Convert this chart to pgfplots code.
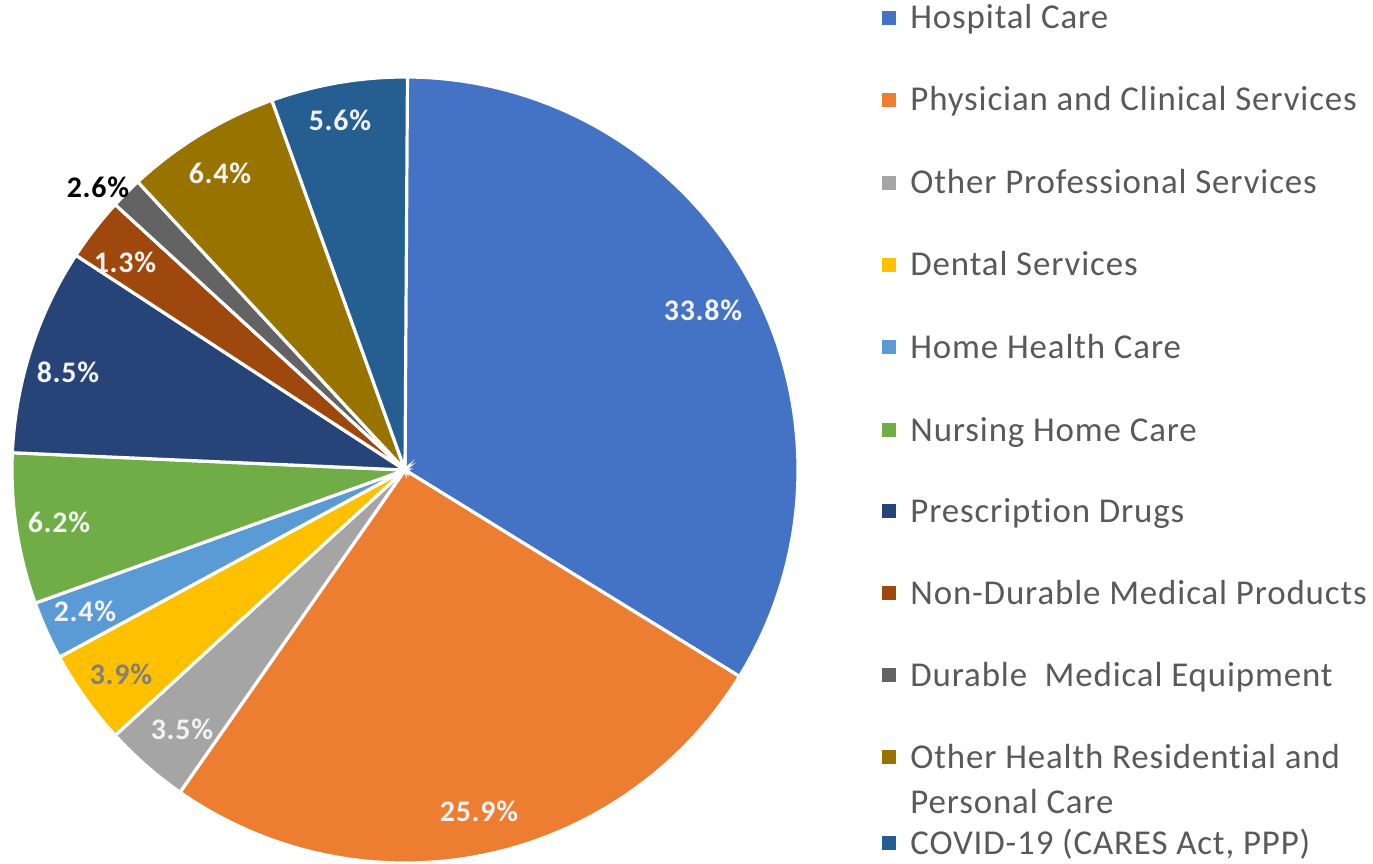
\documentclass[border=0pt]{standalone}
\usepackage{fontspec}
\setmainfont{Carlito}
\newfontfamily\legfont[LetterSpace=2.5, Ligatures=CommonOff]{Carlito}
\newfontfamily\labfont[LetterSpace=2.5, Ligatures=CommonOff]{Carlito}
\usepackage{pgfplots}
\usepackage{pgfplotstable}
\pgfplotsset{compat=1.18}

\definecolor{c0}{HTML}{4472C4}
\definecolor{c1}{HTML}{ED7D31}
\definecolor{c2}{HTML}{A5A5A5}
\definecolor{c3}{HTML}{FFC000}
\definecolor{c4}{HTML}{5B9BD5}
\definecolor{c5}{HTML}{70AD47}
\definecolor{c6}{HTML}{264478}
\definecolor{c7}{HTML}{9E480E}
\definecolor{c8}{HTML}{636363}
\definecolor{c9}{HTML}{997300}
\definecolor{c10}{HTML}{255E91}
\definecolor{legtext}{HTML}{595959}
\definecolor{labgray}{HTML}{7F7F7F}
\definecolor{labwhite}{HTML}{F2F2F2}

% share (%), printed label, label position (px, y from top)
\pgfplotstableread{
val  lab  lx  ly
33.8 33.8 703 310
25.9 25.9 479 811
3.5  3.5  182 729
3.9  3.9  121 674
2.4  2.4  85  611
6.2  6.2  59  522
8.5  8.5  68  372
2.6  1.3  125 262
1.3  2.6  98  187
6.4  6.4  220 173
5.6  5.6  340 120
}\piedata

\newcommand{\legentry}[3]{% color, y (from top), text
  \fill[#1] (axis cs:882,{863-#2-7}) rectangle (axis cs:896,{863-#2+7});
  \node[anchor=base west, inner sep=0pt, text=legtext,
        font=\legfont\fontsize{17.5}{21}\selectfont]
        at (axis cs:910,{863-#2-11}) {#3};
}

\begin{document}
\begin{tikzpicture}
\begin{axis}[
  x=0.5bp, y=0.5bp,
  xmin=0, xmax=1373, ymin=0, ymax=863,
  hide axis, clip=false,
]
\coordinate (bl) at (axis cs:0,0);
\coordinate (tr) at (axis cs:1373,863);

% sectors, clockwise from the top
\def\startang{90}
\pgfplotsforeachungrouped \i in {0,...,10}{%
  \pgfplotstablegetelem{\i}{val}\of\piedata
  \let\v\pgfplotsretval
  \pgfmathsetmacro\endang{\startang-3.6*\v}%
  \edef\temp{\noexpand\fill[c\i, draw=white, line width=1.6bp]
    (axis cs:405,393) -- ++(\startang:196.5bp)
    arc[start angle=\startang, end angle=\endang, radius=196.5bp] -- cycle;}%
  \temp
  \let\startang\endang
}

% data labels
\pgfplotsforeachungrouped \i in {0,...,10}{%
  \pgfplotstablegetelem{\i}{lab}\of\piedata \let\lab\pgfplotsretval
  \pgfplotstablegetelem{\i}{lx}\of\piedata \let\lx\pgfplotsretval
  \pgfplotstablegetelem{\i}{ly}\of\piedata \let\ly\pgfplotsretval
  \def\lc{labwhite}%
  \ifnum\i=8 \def\lc{black}\fi
  \ifnum\i=3 \def\lc{labgray}\fi
  \edef\temp{\noexpand\node[text=\lc, font=\noexpand\labfont\noexpand\bfseries\noexpand\fontsize{15}{17}\noexpand\selectfont]
    at (axis cs:\lx,{863-\ly}) {\lab\noexpand\%};}%
  \temp
}

% legend
\legentry{c0}{18}{Hospital Care}
\legentry{c1}{100}{Physician and Clinical Services}
\legentry{c2}{183}{Other Professional Services}
\legentry{c3}{265}{Dental Services}
\legentry{c4}{347}{Home Health Care}
\legentry{c5}{430}{Nursing Home Care}
\legentry{c6}{511}{Prescription Drugs}
\legentry{c7}{593}{Non-Durable Medical Products}
\legentry{c8}{675}{Durable\ \ Medical Equipment}
\legentry{c9}{757}{Other Health Residential and}
\node[anchor=base west, inner sep=0pt, text=legtext,
      font=\legfont\fontsize{17.5}{21}\selectfont]
      at (axis cs:910,{863-813}) {Personal Care};
\legentry{c10}{843}{COVID-19 (CARES Act, PPP)}
\end{axis}
\pgfresetboundingbox
\path (bl) rectangle (tr);
\end{tikzpicture}
\end{document}
